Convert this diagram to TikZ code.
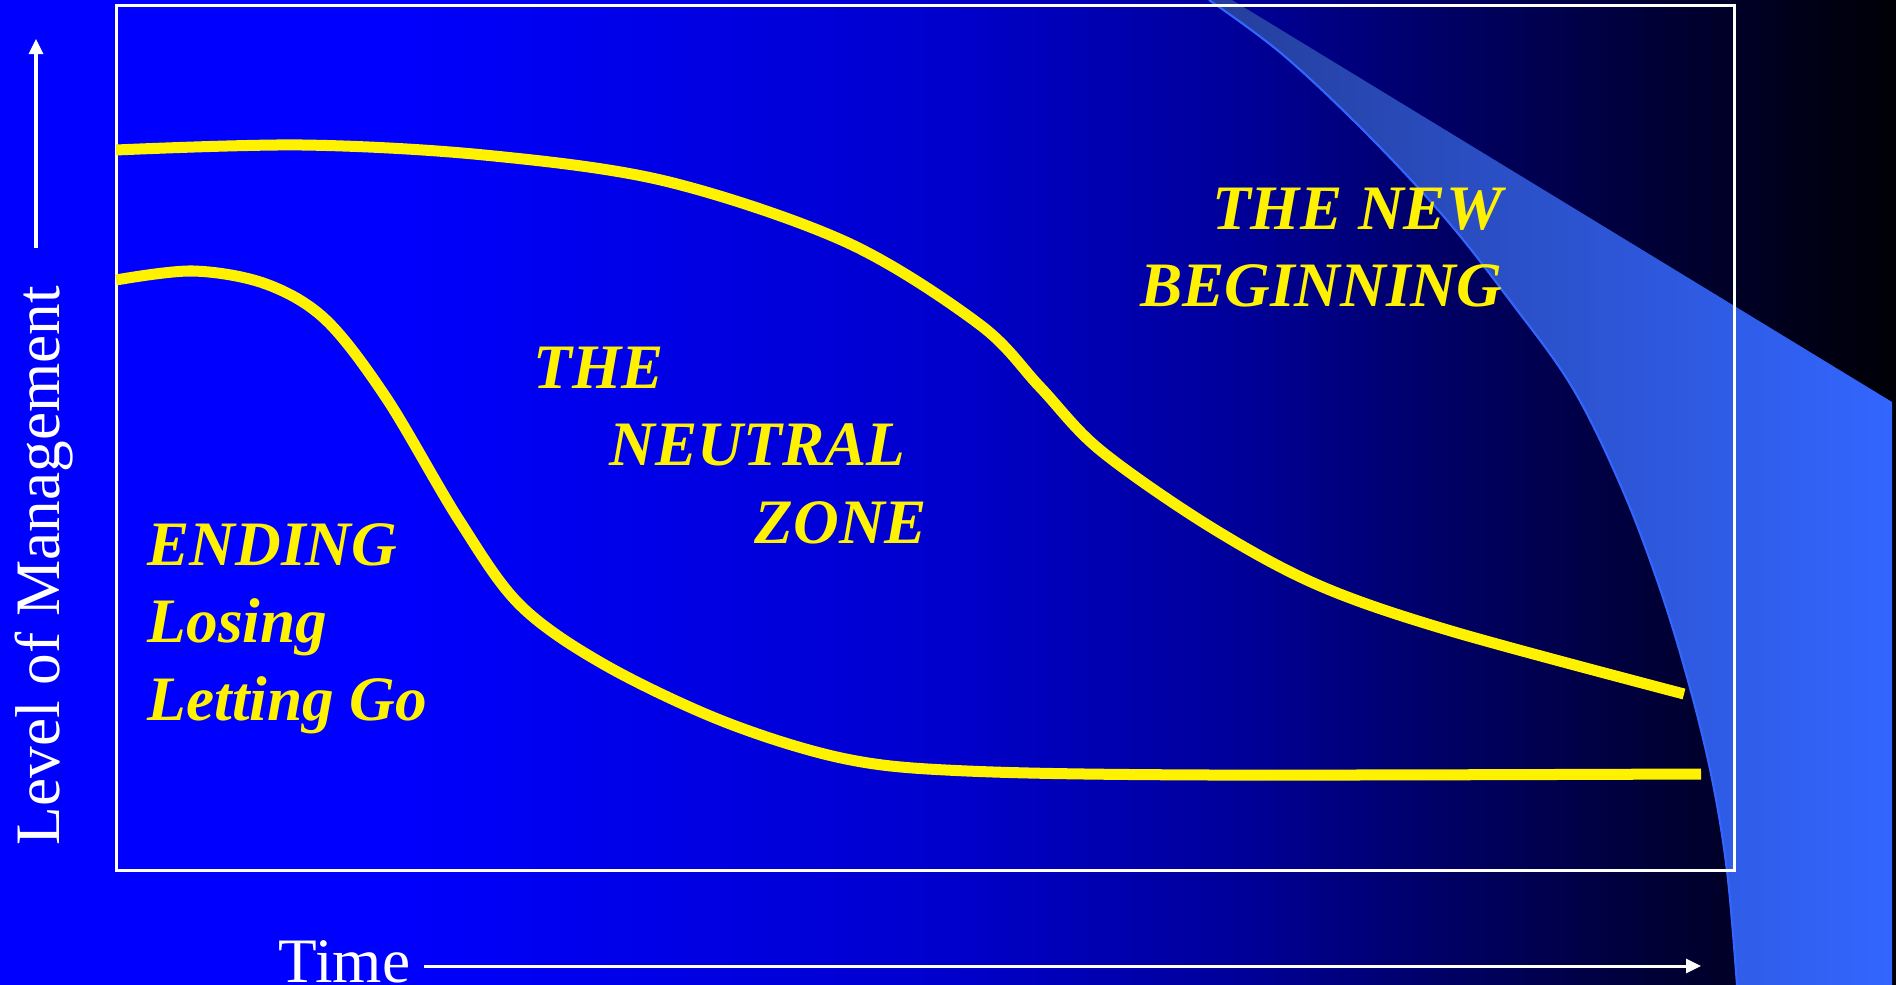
\documentclass[tikz,border=0pt]{standalone}
\usepackage{fontspec}
\setmainfont{Liberation Serif}
\usepackage{tikz}
\usetikzlibrary{arrows.meta}

\definecolor{bandL}{RGB}{36,62,155}
\definecolor{bandM}{RGB}{47,90,225}
\definecolor{bandR}{RGB}{51,102,255}

\begin{document}
\begin{tikzpicture}[
  x=0.01cm, y=-0.01cm,
  phase/.style={text=yellow, font=\fontsize{18}{21.9}\selectfont\bfseries\itshape, inner sep=0pt},
  axislabel/.style={text=white, font=\fontsize{18}{21.9}\selectfont},
  axisarrow/.style={white, line width=0.03cm, -{Triangle[length=0.15cm,width=0.14cm]}},
  curve/.style={yellow, line width=0.11cm},
]
\useasboundingbox (0,0) rectangle (1896,985);
% background, blue fading to black
\fill[blue] (0,0) rectangle (381,985);
\foreach \xa/\xb/\pa/\pb in {380/950/100/80, 950/1250/80/59, 1250/1450/59/39,
  1450/1650/39/22, 1650/1896/22/2}
  \shade[left color=blue!\pa!black, right color=blue!\pb!black]
    (\xa,0) rectangle (\xb+1,985);
% light band on the right
\shade[left color=bandL, middle color=bandM, right color=bandR]
  plot[smooth, tension=0.6] coordinates {(1209,0) (1282,54) (1366,133) (1445,218)
    (1511,302) (1572,387) (1620,484) (1657,580) (1687,677) (1711,774) (1727,871)
    (1737,985)}
  -- (1892,985) -- (1892,402) -- (1232,0) -- cycle;
\draw[bandR, line width=0.6pt] plot[smooth, tension=0.6] coordinates {(1209,0)
  (1282,54) (1366,133) (1445,218) (1511,302) (1572,387) (1620,484) (1657,580)
  (1687,677) (1711,774) (1727,871) (1737,985)};
% frame
\draw[white, line width=0.03cm] (116,6) rectangle (1734,870);
% the two curves
\draw[curve] plot[smooth, tension=0.55] coordinates {(116,150) (302,145) (484,155)
  (665,181) (846,242) (979,324) (1040,387) (1100,450) (1209,526) (1318,585)
  (1451,631) (1684,694)};
\draw[curve] plot[smooth, tension=0.55] coordinates {(116,280) (193,271) (266,284)
  (326,320) (387,399) (459,520) (520,605) (605,665) (725,722) (846,759) (967,771)
  (1209,775) (1701,774)};
% phases (base = last line)
\node[phase, anchor=base west, align=left] (ending) at (147,720)
  {ENDING\\Losing\\Letting Go};
\node[phase, anchor=base west, align=left] (neutral) at (533,543)
  {THE\\\hspace*{0.76cm}NEUTRAL\\\hspace*{2.21cm}ZONE};
\node[phase, anchor=base east, align=right] (newbeg) at (1503,307)
  {THE NEW\\BEGINNING};
% axes
\node[axislabel, anchor=base west, inner xsep=0.13cm] (time) at (265,982) {Time};
\coordinate (timeend) at (1701,966);
\draw[axisarrow] (time.east |- timeend) -- (timeend);
\node[axislabel, anchor=base west, rotate=90, inner xsep=0.38cm] (level) at (60,884)
  {Level of Management};
\coordinate (levelend) at (36,39);
\draw[axisarrow] (level.east -| levelend) -- (levelend);
\end{tikzpicture}
\end{document}
